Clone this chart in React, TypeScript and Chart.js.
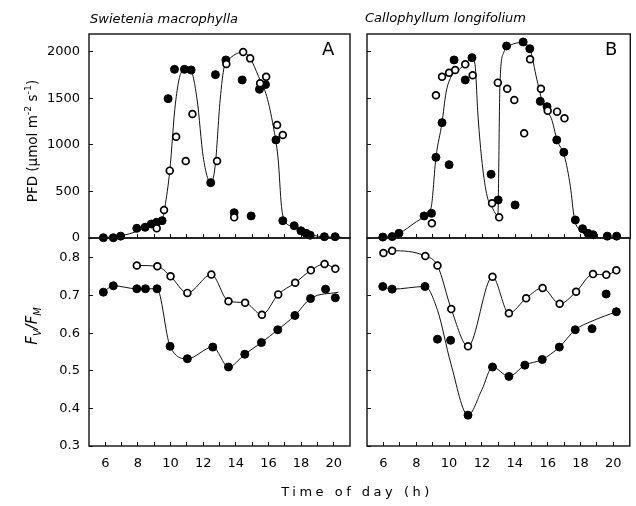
import React, { useEffect, useRef } from 'react';
import { Chart, registerables } from 'chart.js';
Chart.register(...registerables);

type P = [number, number];

// ---------- axis tick values ----------
const hourTicks = [6, 7, 8, 9, 10, 11, 12, 13, 14, 15, 16, 17, 18, 19, 20];
const hourLabels = [6, 8, 10, 12, 14, 16, 18, 20];
const pfdLabels = [0, 500, 1000, 1500, 2000];
const fvLabels = [0.3, 0.4, 0.5, 0.6, 0.7, 0.8];

// ---------- Panel A (Swietenia macrophylla) : PFD ----------
const pfdA_closed: P[] = [
  [5.88, 3], [6.49, 3], [6.94, 20], [7.93, 104], [8.44, 115], [8.82, 150], [9.15, 169], [9.48, 186],
  [9.85, 1498], [10.24, 1813], [10.85, 1813], [11.26, 1806], [12.46, 595], [12.75, 1756], [13.39, 1914],
  [13.9, 272], [14.39, 1699], [14.94, 237], [15.45, 1599], [15.82, 1649], [16.46, 1054], [16.88, 186],
  [17.58, 132], [17.99, 78], [18.31, 50], [18.56, 30], [19.43, 14], [20.09, 14],
];
const pfdA_open: P[] = [
  [9.15, 104], [9.6, 301], [9.95, 724], [10.34, 1089], [10.93, 828], [11.34, 1333], [12.85, 828],
  [13.42, 1871], [13.9, 222], [14.45, 2000], [14.88, 1931], [15.49, 1663], [15.86, 1734], [16.53, 1215],
  [16.88, 1107],
];
const pfdA_curve: P[] = [
  [5.88, 3], [7, 25], [8, 75], [8.8, 140], [9.48, 190], [9.65, 330], [9.95, 720], [10.3, 1450],
  [10.7, 1790], [11.2, 1810], [11.63, 1484], [12.0, 874], [12.46, 595], [12.73, 766], [13.04, 1484],
  [13.29, 1842], [13.66, 1935], [14.45, 2000], [14.88, 1931], [15.4, 1734], [15.9, 1519], [16.3, 1197],
  [16.6, 838], [16.8, 337], [17.0, 186], [17.5, 122], [18.3, 50], [19.3, 14], [20.5, 7],
];

// ---------- Panel B (Callophyllum longifolium) : PFD ----------
const pfdB_closed: P[] = [
  [5.96, 10], [6.53, 15], [6.94, 50], [8.47, 237], [8.92, 265], [9.19, 867], [9.56, 1240], [9.99, 788],
  [10.29, 1914], [10.97, 1699], [11.38, 1939], [12.54, 685], [12.97, 409], [13.48, 2064], [14.0, 355],
  [14.49, 2107], [14.89, 2035], [15.53, 1469], [15.94, 1412], [16.53, 1054], [16.96, 921], [17.66, 194],
  [18.1, 100], [18.43, 50], [18.74, 35], [19.6, 20], [20.17, 20],
];
const pfdB_open: P[] = [
  [8.94, 158], [9.19, 1534], [9.56, 1734], [9.99, 1777], [10.36, 1806], [10.97, 1867], [11.42, 1749],
  [12.6, 373], [12.95, 1670], [13.03, 222], [13.52, 1605], [13.95, 1484], [14.55, 1125], [14.91, 1921],
  [15.57, 1605], [15.98, 1369], [16.55, 1358], [17.0, 1287],
];
const pfdB_curve: P[] = [
  [5.96, 10], [6.94, 50], [8.0, 175], [8.5, 230], [8.9, 330], [9.19, 867], [9.56, 1240], [9.8, 1560],
  [10.1, 1730], [10.6, 1810], [11.38, 1920], [11.55, 1880], [11.75, 1300], [12.0, 800], [12.3, 450],
  [12.6, 330], [12.95, 240], [13.08, 1660], [13.3, 1990], [13.75, 2075], [14.4, 2100], [14.9, 2030],
  [15.33, 1699], [15.76, 1400], [16.2, 1287], [16.55, 1054], [17.0, 878], [17.36, 552], [17.6, 211],
  [18.0, 75], [18.45, 20], [19.1, 3],
];

// ---------- Panel A : Fv/Fm ----------
const fvA_open: P[] = [
  [7.93, 0.78], [9.19, 0.778], [10.0, 0.751], [11.03, 0.707], [12.5, 0.756], [13.55, 0.685], [14.57, 0.681],
  [15.6, 0.649], [16.6, 0.703], [17.64, 0.734], [18.6, 0.767], [19.44, 0.784], [20.1, 0.771],
];
const fvA_closed: P[] = [
  [5.88, 0.709], [6.49, 0.726], [7.93, 0.718], [8.46, 0.718], [9.17, 0.718], [9.97, 0.565], [11.03, 0.532],
  [12.59, 0.563], [13.55, 0.51], [14.55, 0.544], [15.57, 0.575], [16.57, 0.609], [17.62, 0.647],
  [18.58, 0.692], [19.5, 0.717], [20.1, 0.694],
];
const fvA_closed_curve: P[] = [
  [5.88, 0.709], [6.49, 0.726], [7.93, 0.718], [8.46, 0.718], [9.17, 0.718], [9.97, 0.565], [11.03, 0.532],
  [12.59, 0.563], [13.55, 0.51], [14.55, 0.544], [15.57, 0.575], [16.57, 0.609], [17.62, 0.647],
  [18.58, 0.692], [20.3, 0.709],
];

// ---------- Panel B : Fv/Fm ----------
const fvB_open: P[] = [
  [6.0, 0.813], [6.53, 0.819], [8.55, 0.805], [9.29, 0.78], [10.13, 0.664], [11.15, 0.565], [12.64, 0.75],
  [13.64, 0.653], [14.69, 0.693], [15.69, 0.72], [16.73, 0.678], [17.73, 0.71], [18.76, 0.757],
  [19.57, 0.755], [20.18, 0.767],
];
const fvB_closed: P[] = [
  [5.96, 0.724], [6.53, 0.717], [8.53, 0.724], [9.29, 0.584], [10.09, 0.581], [11.15, 0.382], [12.64, 0.51],
  [13.64, 0.485], [14.61, 0.515], [15.67, 0.53], [16.71, 0.563], [17.68, 0.609], [18.7, 0.612],
  [19.56, 0.704], [20.18, 0.657],
];
const fvB_closed_curve: P[] = [
  [5.96, 0.724], [6.53, 0.717], [8.53, 0.724], [9.3, 0.66], [10.1, 0.52], [11.15, 0.382], [12.0, 0.45],
  [12.64, 0.51], [13.64, 0.485], [14.61, 0.515], [15.67, 0.53], [16.71, 0.563], [17.68, 0.609],
  [18.7, 0.632], [20.18, 0.657],
];

// ---------- layout ----------
const W = 636;
const H = 506;
const FONT = 'DejaVu Sans';

const toXY = (arr: P[]) => arr.map(([x, y]) => ({ x, y }));

const framePlugin = {
  id: 'frame',
  afterDraw(chart: any) {
    const { ctx, chartArea: a } = chart;
    ctx.save();
    ctx.strokeStyle = '#111';
    ctx.lineWidth = 1.4;
    ctx.strokeRect(a.left, a.top, a.right - a.left, a.bottom - a.top);
    ctx.restore();
  },
};

type PanelSpec = {
  left: number; right: number; top: number; bottom: number;
  yMin: number; yMax: number; yTicks: number[]; showY: boolean;
  showX: boolean; decimals: number;
  closed: P[]; open: P[]; curveClosed: P[]; curveOpen: P[] | null;
};

function buildConfig(s: PanelSpec): any {
  const yW = 60;
  const xH = s.showX ? 40 : 0;
  const line = (d: P[]) => ({
    data: toXY(d), showLine: true, borderColor: '#111', borderWidth: 1, pointRadius: 0,
    cubicInterpolationMode: 'monotone', fill: false, order: 3, clip: false,
  });
  const datasets: any[] = [line(s.curveClosed)];
  if (s.curveOpen) datasets.push(line(s.curveOpen));
  datasets.push({
    data: toXY(s.closed), showLine: false, pointRadius: 4, pointBackgroundColor: '#000',
    pointBorderColor: '#000', pointBorderWidth: 1, order: 2, clip: false,
  });
  datasets.push({
    data: toXY(s.open), showLine: false, pointRadius: 3.4, pointBackgroundColor: '#fff',
    pointBorderColor: '#000', pointBorderWidth: 1.7, order: 1, clip: false,
  });
  const near = (v: number, arr: number[]) => arr.some((t) => Math.abs(t - v) < 1e-6);
  return {
    type: 'scatter',
    data: { datasets },
    plugins: [framePlugin],
    options: {
      responsive: false,
      animation: false,
      devicePixelRatio: 1,
      events: [],
      layout: { padding: { left: s.left - yW, right: W - s.right, top: s.top, bottom: H - s.bottom - xH } },
      plugins: { legend: { display: false }, tooltip: { enabled: false }, title: { display: false } },
      scales: {
        x: {
          type: 'linear', position: 'bottom', min: 5, max: 21,
          afterBuildTicks: (sc: any) => { sc.ticks = hourTicks.map((v) => ({ value: v })); },
          ticks: {
            autoSkip: false, maxRotation: 0, minRotation: 0, padding: 14, color: '#000',
            font: { family: FONT, size: 13 },
            callback: (v: any) => (s.showX && near(Number(v), hourLabels) ? String(v) : ''),
          },
          grid: { drawOnChartArea: false, drawTicks: true, tickLength: -4, color: '#111', lineWidth: 1 },
          border: { display: false },
          afterFit: (sc: any) => { sc.height = xH; },
        },
        y: {
          type: 'linear', position: 'left', min: s.yMin, max: s.yMax,
          afterBuildTicks: (sc: any) => { sc.ticks = s.yTicks.map((v) => ({ value: v })); },
          ticks: {
            autoSkip: false, padding: 13, color: '#000',
            font: { family: FONT, size: 13 },
            callback: (v: any) => (s.showY ? Number(v).toFixed(s.decimals) : ''),
          },
          grid: { drawOnChartArea: false, drawTicks: true, tickLength: -4, color: '#111', lineWidth: 1 },
          border: { display: false },
          afterFit: (sc: any) => { sc.width = yW; },
        },
      },
    },
  };
}

const panels: PanelSpec[] = [
  { left: 89, right: 350, top: 34, bottom: 238, yMin: 0, yMax: 2193, yTicks: pfdLabels,
    showY: true, showX: false, decimals: 0, closed: pfdA_closed, open: pfdA_open, curveClosed: pfdA_curve, curveOpen: null },
  { left: 89, right: 350, top: 238, bottom: 446, yMin: 0.3, yMax: 0.853, yTicks: fvLabels,
    showY: true, showX: true, decimals: 1, closed: fvA_closed, open: fvA_open, curveClosed: fvA_closed_curve, curveOpen: fvA_open },
  { left: 367, right: 632, top: 34, bottom: 238, yMin: 0, yMax: 2193, yTicks: pfdLabels,
    showY: false, showX: false, decimals: 0, closed: pfdB_closed, open: pfdB_open, curveClosed: pfdB_curve, curveOpen: null },
  { left: 367, right: 632, top: 238, bottom: 446, yMin: 0.3, yMax: 0.853, yTicks: fvLabels,
    showY: false, showX: true, decimals: 1, closed: fvB_closed, open: fvB_open, curveClosed: fvB_closed_curve, curveOpen: fvB_open },
];

export default function App() {
  const refs = [useRef<HTMLCanvasElement>(null), useRef<HTMLCanvasElement>(null), useRef<HTMLCanvasElement>(null), useRef<HTMLCanvasElement>(null)];
  useEffect(() => {
    const charts = panels.map((p, i) => new Chart(refs[i].current as HTMLCanvasElement, buildConfig(p)));
    return () => charts.forEach((c) => c.destroy());
  }, []);

  const txt: React.CSSProperties = { position: 'absolute', fontFamily: FONT, color: '#000', whiteSpace: 'nowrap', lineHeight: 'normal' };
  return (
    <div style={{ position: 'absolute', left: 0, top: 0, width: W, height: H, background: '#fff', overflow: 'hidden' }}>
      {panels.map((_, i) => (
        <canvas key={i} ref={refs[i]} width={W} height={H} style={{ position: 'absolute', left: 0, top: 0, width: W, height: H }} />
      ))}
      <div style={{ ...txt, left: 90, top: 11, fontSize: 13, fontStyle: 'italic' }}>Swietenia macrophylla</div>
      <div style={{ ...txt, left: 365, top: 10, fontSize: 13, fontStyle: 'italic' }}>Callophyllum longifolium</div>
      <div style={{ ...txt, left: 322, top: 38, fontSize: 18 }}>A</div>
      <div style={{ ...txt, left: 605, top: 38, fontSize: 18 }}>B</div>
      <div style={{ ...txt, left: 357, top: 491, fontSize: 13, letterSpacing: '3.5px', transform: 'translate(-50%, -50%)' }}>Time of day (h)</div>
      <div style={{ ...txt, left: 31, top: 141, fontSize: 13.5, transform: 'translate(-50%, -50%) rotate(-90deg)' }}>
        PFD (µmol m<sup style={{ fontSize: '0.7em' }}>-2</sup> s<sup style={{ fontSize: '0.7em' }}>-1</sup>)
      </div>
      <div style={{ ...txt, left: 33, top: 326, fontSize: 15, fontStyle: 'italic', transform: 'translate(-50%, -50%) rotate(-90deg)' }}>
        F<sub style={{ fontSize: '0.65em' }}>V</sub>/F<sub style={{ fontSize: '0.65em' }}>M</sub>
      </div>
    </div>
  );
}
